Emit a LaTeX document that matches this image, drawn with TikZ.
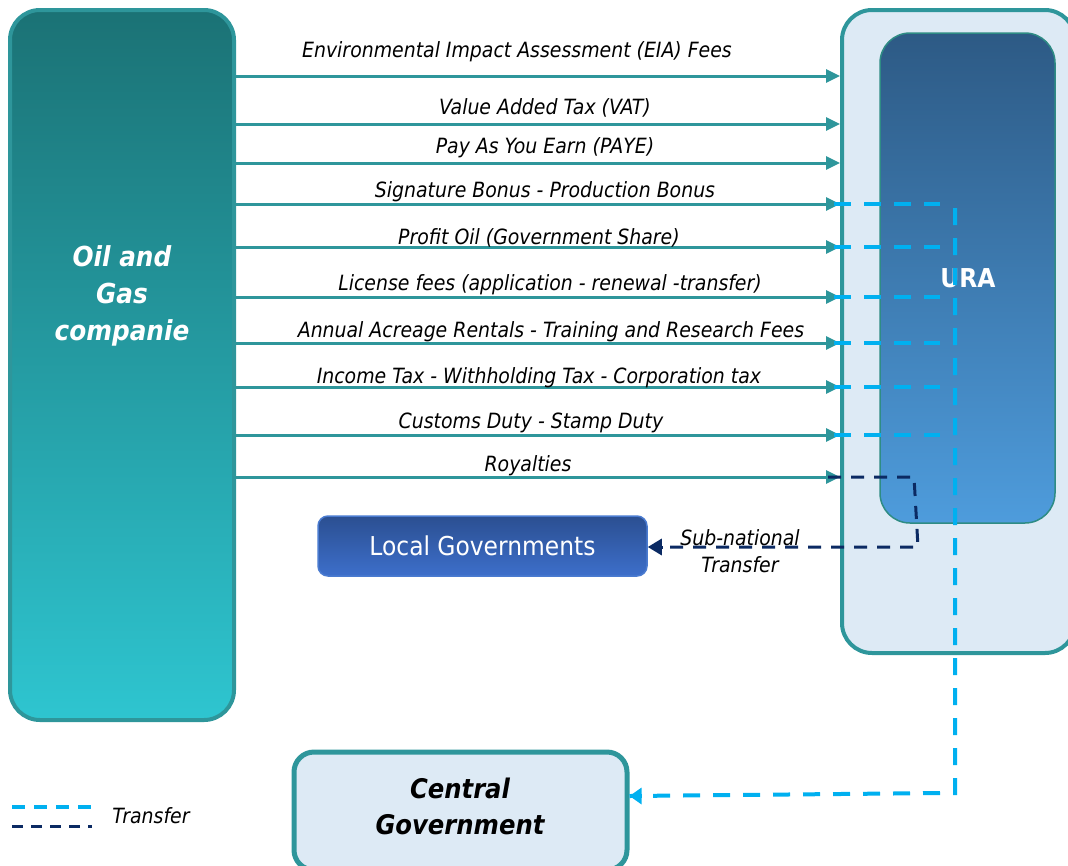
\documentclass[tikz,border=0pt]{standalone}
\usepackage{fontspec}
\setmainfont{DejaVu Sans Condensed}
\usetikzlibrary{arrows.meta,calc}
\definecolor{teal1}{RGB}{46,150,155}
\definecolor{ogtop}{RGB}{27,114,117}
\definecolor{ogbot}{RGB}{46,197,208}
\definecolor{pale}{RGB}{221,234,245}
\definecolor{uratop}{RGB}{45,90,133}
\definecolor{urabot}{RGB}{78,156,220}
\definecolor{uraedge}{RGB}{46,140,132}
\definecolor{lgtop}{RGB}{43,79,145}
\definecolor{lgbot}{RGB}{61,111,203}
\definecolor{lgedge}{RGB}{74,123,208}
\definecolor{lblue}{RGB}{0,176,240}
\definecolor{navy}{RGB}{11,42,99}
\tikzset{
  flow/.style={draw=teal1, line width=3pt, -{Triangle[length=14pt,width=13pt]}},
  lab/.style={font=\fontsize{21}{24}\selectfont\itshape, text=black, inner sep=0pt},
  tlight/.style={draw=lblue, line width=4pt, dash pattern=on 17pt off 13pt},
  tnavy/.style={draw=navy, line width=3pt, dash pattern=on 13pt off 10pt},
}
\begin{document}
\begin{tikzpicture}[x=1pt,y=-1pt]
\useasboundingbox (0,0) rectangle (1068,865);
% boxes
\node[draw=teal1, line width=4pt, rounded corners=30pt, top color=ogtop, bottom color=ogbot,
  minimum width=224pt, minimum height=710pt, inner sep=0pt] (og) at (122,365) {};
\node[text=white, font=\fontsize{27.5}{37}\selectfont\bfseries\itshape, align=center] (ogt) at (122,296) {Oil and\\Gas\\companie};
\node[draw=teal1, line width=4pt, rounded corners=30pt, fill=pale,
  minimum width=233pt, minimum height=643pt, inner sep=0pt] (ext) at (958.5,331.5) {};
\node[draw=uraedge, line width=1.5pt, rounded corners=30pt, top color=uratop, bottom color=urabot,
  minimum width=175pt, minimum height=490pt, inner sep=0pt] (ura) at (967.5,278) {};
\node[text=white, font=\fontsize{26}{30}\selectfont\bfseries] (urat) at (968,278) {URA};
\node[draw=lgedge, line width=1.5pt, rounded corners=10pt, top color=lgtop, bottom color=lgbot,
  minimum width=329pt, minimum height=60pt, inner sep=0pt, text=white,
  font=\fontsize{26}{30}\selectfont] (lg) at (482.5,546) {Local Governments};
\node[draw=teal1, line width=5pt, rounded corners=20pt, fill=pale,
  minimum width=333pt, minimum height=118pt, inner sep=0pt] (cg) at (460.5,811) {};
\node[font=\fontsize{27}{36}\selectfont\bfseries\itshape, align=center] (cgt) at (460,806) {Central\\Government};
% flows
\foreach \y/\cx/\ly/\t in {
  76/517/52/{Environmental Impact Assessment (EIA) Fees},
  124/545/108/{Value Added Tax (VAT)},
  163/545/148/{Pay As You Earn (PAYE)},
  204/545/192/{Signature Bonus - Production Bonus},
  247/539/238/{Profit Oil (Government Share)},
  297/550/285/{License fees (application - renewal -transfer)},
  343/551/332/{Annual Acreage Rentals - Training and Research Fees},
  387/539/378/{Income Tax - Withholding Tax - Corporation tax},
  435/531/423/{Customs Duty - Stamp Duty},
  477/528/466/{Royalties}}{
  \draw[flow] (og.east |- 0,\y) -- (ext.west |- 0,\y);
  \node[lab] at (\cx,\ly) {\t};
}
% light blue transfers
\foreach \y in {204,247,297,343,387,435}{
  \draw[tlight] ($(ext.west |- 0,\y)+(-6,0)$) -- (940,\y);
}
\coordinate (vtop) at (955,208);
\coordinate (vbot) at (955,793);
\draw[tlight] (vtop) -- (vbot) -- (945,793) -- (cg.east |- 0,796);
\draw[draw=lblue, line width=4pt, -{Triangle[length=12pt,width=16pt]}] ($(cg.east |- 0,796)+(12,0)$) -- (cg.east |- 0,796);
% navy sub-national
\coordinate (n1) at (828,477);
\coordinate (n2) at (914,477);
\coordinate (n3) at (918,547);
\draw[tnavy] (n1) -- (n2) -- (n3) -- ($(lg.east |- 0,547)+(14,0)$);
\draw[draw=navy, line width=3pt, -{Triangle[length=14pt,width=16pt]}] ($(lg.east |- 0,547)+(15,0)$) -- (lg.east |- 0,547);
\node[lab, align=center, font=\fontsize{21}{27}\selectfont\itshape] (sub) at (740,551) {Sub-national\\Transfer};
% legend
\coordinate (l1a) at (12,807); \coordinate (l1b) at (92,807);
\coordinate (l2a) at (12,826); \coordinate (l2b) at (92,826);
\draw[draw=lblue, line width=4pt, dash pattern=on 13pt off 9pt] (l1a) -- (l1b);
\draw[draw=navy, line width=3pt, dash pattern=on 11pt off 8pt] (l2a) -- (l2b);
\node[lab] (legt) at (151,816) {Transfer};
\end{tikzpicture}
\end{document}
